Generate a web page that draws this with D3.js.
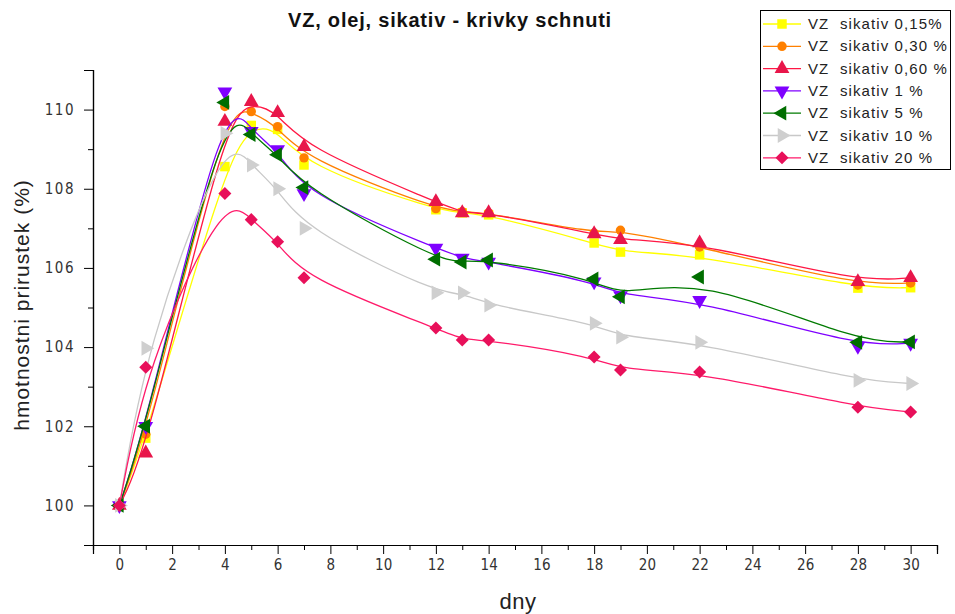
<!DOCTYPE html>
<html><head><meta charset="utf-8">
<script src="https://cdn.jsdelivr.net/npm/d3@7/dist/d3.min.js"></script>
<style>body{margin:0;background:#fff}svg{display:block;font-family:"Liberation Sans",Arial,sans-serif}</style>
</head><body><svg id="c" width="955" height="614"></svg>
<script>
const days = [0, 1, 4, 5, 6, 7, 12, 13, 14, 18, 19, 22, 28, 30];
const s015 = [100, 101.7, 108.56, 109.6, 109.5, 108.6, 107.47, 107.39, 107.34, 106.63, 106.4, 106.33, 105.49, 105.5];
const s030 = [100, 101.8, 110.08, 109.95, 109.57, 108.78, 107.5, 107.42, 107.39, 106.88, 106.95, 106.53, 105.57, 105.62];
const s060 = [100, 101.32, 109.7, 110.2, 109.92, 109.06, 107.67, 107.39, 107.39, 106.86, 106.71, 106.63, 105.65, 105.75];
const s1 = [100, 102.0, 110.45, 109.45, 108.99, 107.88, 106.5, 106.25, 106.15, 105.65, 105.3, 105.18, 104.02, 104.1];
const s5 = [100, 102.0, 110.18, 109.37, 108.86, 108.03, 106.22, 106.15, 106.2, 105.72, 105.27, 105.77, 104.12, 104.13];
const s10 = [100, 103.97, 109.4, 108.6, 108.0, 107.0, 105.37, 105.37, 105.06, 104.6, 104.25, 104.12, 103.16, 103.08];
const s20 = [100, 103.49, 107.88, 107.22, 106.66, 105.75, 104.48, 104.18, 104.18, 103.75, 103.42, 103.37, 102.48, 102.36];
const seriesNames = ["VZ  sikativ 0,15%", "VZ  sikativ 0,30 %", "VZ  sikativ 0,60 %", "VZ  sikativ 1 %", "VZ  sikativ 5 %", "VZ  sikativ 10 %", "VZ  sikativ 20 %"];
const seriesValues = [s015, s030, s060, s1, s5, s10, s20];
const xTicks = d3.range(0, 31, 2);
const yTicks = [100, 102, 104, 106, 108, 110];

const lineColors = ["#ffff00", "#ff8000", "#ff1744", "#7f00ff", "#007a00", "#c8c8c8", "#ff1a6a"];
const markColors = ["#ffff00", "#ff8000", "#e8164a", "#7f00ff", "#006e00", "#cfcfcf", "#e8105a"];
const shapes = [
  {t: d3.symbolSquare, s: 90, r: 0},
  {t: d3.symbolCircle, s: 70, r: 0},
  {t: d3.symbolTriangle, s: 95, r: 0},
  {t: d3.symbolTriangle, s: 95, r: 180},
  {t: d3.symbolTriangle, s: 95, r: -90},
  {t: d3.symbolTriangle, s: 95, r: 90},
  {t: d3.symbolSquare, s: 85, r: 45}
];

const svg = d3.select("#c");
const L = 93, R = 937, T = 70, B = 545;
const x = d3.scaleLinear().domain([-1, 31]).range([L, R]);
const y = d3.scaleLinear().domain([99, 111]).range([B, T]);

// title
svg.append("text").attr("x", 450).attr("y", 27).attr("text-anchor", "middle")
  .attr("font-weight", "bold").attr("font-size", 20).attr("fill", "#111")
  .style("letter-spacing", "0.8px")
  .text("VZ, olej, sikativ - krivky schnuti");

// axes
const xAxis = svg.append("g").attr("transform", `translate(0,${B})`);
xAxis.call(d3.axisBottom(x).tickValues(d3.range(-1, 32, 2)).tickSize(5).tickFormat(""));
xAxis.call(g => g.append("g").call(d3.axisBottom(x).tickValues(xTicks).tickSize(9).tickFormat(d3.format("d"))));
xAxis.selectAll(".domain").attr("stroke", "#000").attr("stroke-width", 1.2);
xAxis.selectAll("line").attr("stroke", "#000");
xAxis.selectAll("text").attr("font-size", 15).attr("fill", "#333").attr("dy", "0.85em")
  .style("font-family", "'Liberation Sans Narrow','DejaVu Sans Condensed',sans-serif");

const yAxis = svg.append("g").attr("transform", `translate(${L},0)`);
yAxis.call(d3.axisLeft(y).tickValues(d3.range(99, 112, 2)).tickSize(5).tickFormat(""));
yAxis.call(g => g.append("g").call(d3.axisLeft(y).tickValues(yTicks).tickSize(9).tickFormat(d3.format("d"))));
yAxis.selectAll(".domain").attr("stroke", "#000").attr("stroke-width", 1.2);
yAxis.selectAll("line").attr("stroke", "#000");
yAxis.selectAll("text").attr("font-size", 15).attr("fill", "#333").attr("x", -18)
  .style("letter-spacing", "1.5px")
  .style("font-family", "'Liberation Sans Narrow','DejaVu Sans Condensed',sans-serif");

// axis labels
svg.append("text").attr("transform", `translate(29,305) rotate(-90)`).attr("text-anchor", "middle")
  .attr("font-size", 21).attr("fill", "#222").style("letter-spacing", "1px")
  .text("hmotnostni prirustek (%)");
svg.append("text").attr("x", 518).attr("y", 609).attr("text-anchor", "middle")
  .attr("font-size", 22).attr("fill", "#222").style("letter-spacing", "0.5px").text("dny");

// series
const line = d3.line().x(d => x(d[0])).y(d => y(d[1])).curve(d3.curveBasis);
seriesValues.forEach((vals, i) => {
  const pts = days.map((d, j) => [d, vals[j]]);
  const g = svg.append("g");
  g.append("path").attr("d", line(pts)).attr("fill", "none")
    .attr("stroke", lineColors[i]).attr("stroke-width", 1.3);
  const sym = d3.symbol().type(shapes[i].t).size(shapes[i].s);
  g.selectAll("path.m").data(pts).join("path").attr("class", "m")
    .attr("d", sym)
    .attr("transform", d => `translate(${x(d[0])},${y(d[1])}) rotate(${shapes[i].r})`)
    .attr("fill", markColors[i]);
});

// legend
const lg = svg.append("g");
lg.append("rect").attr("x", 760.5).attr("y", 10.5).attr("width", 190).attr("height", 159)
  .attr("fill", "#fff").attr("stroke", "#000").attr("stroke-width", 1);
seriesNames.forEach((name, i) => {
  const cy = 24 + i * 22.3;
  lg.append("line").attr("x1", 763).attr("x2", 801).attr("y1", cy).attr("y2", cy)
    .attr("stroke", lineColors[i]).attr("stroke-width", 1.3);
  const sym = d3.symbol().type(shapes[i].t).size(shapes[i].s);
  lg.append("path").attr("d", sym).attr("transform", `translate(782,${cy}) rotate(${shapes[i].r})`)
    .attr("fill", markColors[i]);
  lg.append("text").attr("x", 808).attr("y", cy + 5).attr("font-size", 15).attr("fill", "#222")
    .style("white-space", "pre").style("letter-spacing", "1.1px").text(name);
});
</script></body></html>
